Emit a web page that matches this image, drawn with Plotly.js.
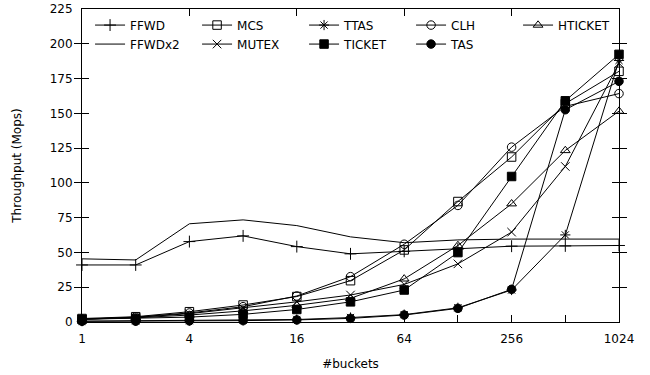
<!DOCTYPE html>
<html>
<head>
<meta charset="utf-8">
<script src="https://cdn.plot.ly/plotly-3.0.1.min.js"></script>
<style>html,body{margin:0;padding:0;background:#fff;}#chart{width:650px;height:375px;}</style>
</head>
<body>
<div id="chart"></div>
<script>
// #buckets
const buckets = [1, 2, 4, 8, 16, 32, 64, 128, 256, 512, 1024];
const tickLabels = ['1', '', '4', '', '16', '', '64', '', '256', '', '1024'];
const majorTicks = [4, 16, 64, 256];

// Throughput (Mops) per lock
const FFWD    = [41, 41, 57.8, 61.9, 54.2, 49, 50.8, 52.5, 54.5, 54.7, 55];
const FFWDx2  = [45.4, 44.6, 70.6, 73.4, 69.3, 61.2, 57, 59, 59.6, 59.6, 59.6];
const MCS     = [2.5, 3.8, 7.4, 12.2, 18.3, 29.7, 51.8, 86.6, 118.6, 157, 180.2];
const MUTEX   = [2, 3.3, 6, 10, 14.5, 19.4, 27, 41.8, 64.6, 111.8, 186];
const TTAS    = [0.6, 0.8, 1, 1.2, 1.8, 3.2, 5.3, 10.2, 23, 62.6, 188];
const TICKET  = [2, 2.5, 3.5, 5.5, 9, 14.5, 23, 49.9, 104.6, 159, 192.4];
const CLH     = [2, 3.5, 6.5, 11, 18.7, 32.6, 55.9, 83.8, 125.7, 155, 164.2];
const TAS     = [0.5, 0.6, 0.8, 1, 1.5, 2.6, 5, 9.8, 23.5, 152.6, 173];
const HTICKET = [2, 3, 5, 8, 12, 17, 31, 55, 85, 123.3, 151.6];

const series = [
  {name: 'FFWD',    y: FFWD,    symbol: 'cross-thin-open', rank: 1, mode: 'lines+markers'},
  {name: 'FFWDx2',  y: FFWDx2,  symbol: 'circle',          rank: 6, mode: 'lines'},
  {name: 'MCS',     y: MCS,     symbol: 'square-open',     rank: 2, mode: 'lines+markers'},
  {name: 'MUTEX',   y: MUTEX,   symbol: 'x-thin-open',     rank: 7, mode: 'lines+markers'},
  {name: 'TTAS',    y: TTAS,    symbol: 'asterisk-open',   rank: 3, mode: 'lines+markers'},
  {name: 'TICKET',  y: TICKET,  symbol: 'square',          rank: 8, mode: 'lines+markers'},
  {name: 'CLH',     y: CLH,     symbol: 'circle-open',     rank: 4, mode: 'lines+markers'},
  {name: 'TAS',     y: TAS,     symbol: 'circle',          rank: 9, mode: 'lines+markers'},
  {name: 'HTICKET', y: HTICKET, symbol: 'triangle-up-open',rank: 5, mode: 'lines+markers'}
];

const traces = series.map(s => ({
  type: 'scatter',
  mode: s.mode,
  name: s.name,
  x: buckets,
  y: s.y,
  legendrank: s.rank,
  line: {color: '#000', width: 1},
  marker: {symbol: s.symbol, size: 8.5, color: '#000', line: {color: '#000', width: 1}},
  cliponaxis: false
}));

// helper trace to carry the top mirrored tick axis
traces.push({type: 'scatter', mode: 'markers', x: [buckets[0]], y: [null], xaxis: 'x2', yaxis: 'y', showlegend: false, hoverinfo: 'skip'});

const font = {family: 'DejaVu Sans, sans-serif', size: 12, color: '#000'};
const xrange = [0, Math.log10(1024)];

const layout = {
  width: 650, height: 375,
  margin: {l: 82, r: 31, t: 9, b: 53},
  paper_bgcolor: '#fff', plot_bgcolor: '#fff',
  font: font,
  showlegend: true,
  legend: {
    orientation: 'h', x: 0.015, y: 0.995, xanchor: 'left', yanchor: 'top',
    entrywidth: 62, entrywidthmode: 'pixels',
    bgcolor: 'rgba(255,255,255,0)', font: font, itemwidth: 30,
    tracegroupgap: 0
  },
  xaxis: {
    type: 'log', range: xrange,
    tickmode: 'array', tickvals: buckets, ticktext: tickLabels,
    ticks: 'inside', ticklen: 7, tickcolor: '#000', tickwidth: 1,
    showline: true, linecolor: '#000', linewidth: 1, mirror: true,
    showgrid: false, zeroline: false,
    ticklabelstandoff: 6,
    tickfont: font,
    title: {text: '#buckets', font: font, standoff: 14}
  },
  xaxis2: {
    type: 'log', range: xrange, overlaying: 'x', side: 'top', anchor: 'y',
    tickmode: 'array', tickvals: majorTicks,
    ticks: 'inside', ticklen: 7, tickcolor: '#000', tickwidth: 1,
    showticklabels: false, showline: false, showgrid: false, zeroline: false
  },
  yaxis: {
    range: [0, 225], tickmode: 'linear', tick0: 0, dtick: 25,
    ticks: 'inside', ticklen: 7, tickcolor: '#000', tickwidth: 1,
    showline: true, linecolor: '#000', linewidth: 1, mirror: 'allticks',
    showgrid: false, zeroline: false,
    ticklabelstandoff: 6,
    tickfont: font,
    title: {text: 'Throughput (Mops)', font: font, standoff: 25}
  }
};

Plotly.newPlot('chart', traces, layout, {staticPlot: true, displayModeBar: false});
</script>
</body>
</html>
